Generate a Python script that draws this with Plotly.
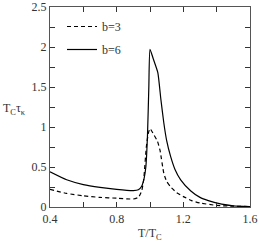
import plotly.graph_objects as go

# b=6 (solid)
t_b6 = [0.4, 0.5, 0.6, 0.7, 0.8, 0.9, 0.93, 0.95, 0.965, 0.975, 0.985, 0.993, 1.0,
        1.02, 1.047, 1.065, 1.083, 1.1, 1.124, 1.15, 1.184, 1.245, 1.3, 1.35, 1.43, 1.5, 1.6]
v_b6 = [0.44, 0.34, 0.28, 0.245, 0.22, 0.205, 0.215, 0.26, 0.36, 0.5, 0.9, 1.5, 1.97,
        1.85, 1.68, 1.35, 1.05, 0.83, 0.63, 0.47, 0.34, 0.2, 0.12, 0.08, 0.035, 0.015, 0.005]

# b=3 (dashed)
t_b3 = [0.4, 0.5, 0.6, 0.7, 0.8, 0.9, 0.93, 0.95, 0.962, 0.978, 0.99, 1.0, 1.024, 1.045,
        1.06, 1.083, 1.1, 1.124, 1.16, 1.2, 1.25, 1.3, 1.4, 1.5, 1.6]
v_b3 = [0.22, 0.17, 0.14, 0.12, 0.11, 0.10, 0.12, 0.2, 0.34, 0.75, 0.92, 0.98, 0.9, 0.82,
        0.71, 0.42, 0.32, 0.25, 0.18, 0.13, 0.08, 0.05, 0.02, 0.01, 0.005]

x_ticks = [0.4, 0.8, 1.2, 1.6]
y_ticks = [0, 0.5, 1, 1.5, 2, 2.5]
y_labels = ["0", "0.5", "1", "1.5", "2", "2.5"]

font = "Liberation Serif, Times New Roman, serif"

fig = go.Figure()
fig.add_trace(go.Scatter(x=t_b3, y=v_b3, mode="lines", name="b=3", legendgroup="g3",
                         line=dict(color="black", width=1.2, dash="4px,3px", shape="spline", smoothing=0.5)))
fig.add_trace(go.Scatter(x=t_b6, y=v_b6, mode="lines", name="b=6", legendgroup="g6",
                         line=dict(color="black", width=1.2, shape="spline", smoothing=0.5)))

axis_common = dict(showgrid=False, zeroline=False, showline=True, linecolor="#555", linewidth=1.2,
                   mirror="ticks", ticks="inside", ticklen=5, tickcolor="#333", automargin=False,
                   tickfont=dict(family=font, size=12, color="#333"))

fig.update_xaxes(range=[0.4, 1.6], tickvals=x_ticks, ticktext=[str(v) for v in x_ticks],
                 minor=dict(dtick=0.2, tick0=0.4, ticks="inside", ticklen=5, tickcolor="#333"),
                 **axis_common)
fig.update_yaxes(range=[0, 2.5], tickvals=y_ticks, ticktext=y_labels,
                 minor=dict(dtick=0.25, tick0=0, ticks="inside", ticklen=5, tickcolor="#333"),
                 **axis_common)

fig.update_layout(
    width=259, height=243,
    margin=dict(l=50, r=9, t=7, b=36, autoexpand=False),
    plot_bgcolor="white", paper_bgcolor="white",
    font=dict(family=font, size=12, color="#333"),
    showlegend=True,
    legend=dict(x=0.06, y=0.975, xanchor="left", yanchor="top", bgcolor="rgba(0,0,0,0)",
                font=dict(family=font, size=12, color="#333"), tracegroupgap=4, itemwidth=30),
    annotations=[
        dict(text="T/T<sub>C</sub>", x=0.5, xref="paper", y=-0.085, yref="paper",
             xanchor="center", yanchor="top", showarrow=False, font=dict(family=font, size=12, color="#333")),
        dict(text="T<sub>C</sub>τ<sub>κ</sub>", x=-0.245, xref="paper", y=0.49, yref="paper",
             xanchor="left", yanchor="middle", showarrow=False, font=dict(family=font, size=12, color="#333")),
    ],
)

fig.write_html("out.html", config={"displayModeBar": False},
               post_script="document.body.style.margin='0';document.body.style.overflow='hidden';")
